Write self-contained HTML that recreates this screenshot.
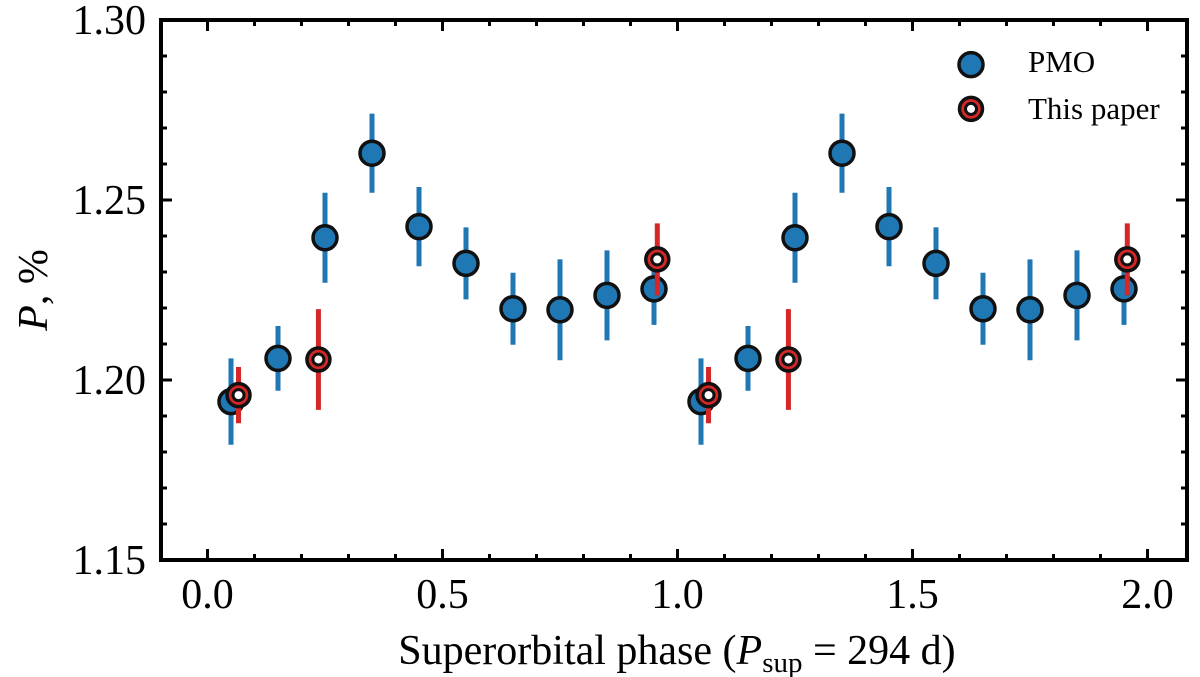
<!DOCTYPE html>
<html><head><meta charset="utf-8"><style>
body{margin:0;background:#fff}
svg text{font-family:"Liberation Serif",serif}
</style></head><body>
<svg id="chart" width="1200" height="677" viewBox="0 0 1200 677" xmlns="http://www.w3.org/2000/svg" style="position:absolute;left:0;top:0"></svg>
<script>
const pmoPhase=[0.05,0.15,0.25,0.35,0.45,0.55,0.65,0.75,0.85,0.95];
const pmoVal=[1.194,1.206,1.2395,1.263,1.2426,1.2324,1.2198,1.2195,1.2235,1.2253];
const pmoErr=[0.012,0.009,0.0125,0.011,0.011,0.010,0.010,0.014,0.0125,0.010];
const ourPhase=[0.066,0.236,0.957];
const ourVal=[1.1958,1.2057,1.2335];
const ourErr=[0.0078,0.014,0.010];
const xTicks=["0.0","0.5","1.0","1.5","2.0"];
const yTicks=["1.15","1.20","1.25","1.30"];

const L=161,R=1187,T=20,B=560;
const X=v=>207.5+v*470;
const Y=v=>B-(v-1.15)/0.15*(B-T);
const svg=document.getElementById('chart');
const NS='http://www.w3.org/2000/svg';
const FF='"Liberation Serif", serif';
function mk(tag,attrs,parent){const e=document.createElementNS(NS,tag);for(const k in attrs)e.setAttribute(k,attrs[k]);(parent||svg).appendChild(e);return e;}

const tg=mk('g',{});


for(let i=-1;i<=21;i++){const v=i*0.1;const x=X(v);if(x<L+2||x>R-2)continue;const len=(i%5===0)?11:6;
 mk('line',{x1:x,y1:B,x2:x,y2:B-len,stroke:'#000','stroke-width':3},tg);
 mk('line',{x1:x,y1:T,x2:x,y2:T+len,stroke:'#000','stroke-width':3},tg);}
for(let i=0;i<=15;i++){const v=1.15+i*0.01;const y=Y(v);if(y<T+2||y>B-2)continue;const len=(i%5===0)?11:6;
 mk('line',{x1:L,y1:y,x2:L+len,y2:y,stroke:'#000','stroke-width':3},tg);
 mk('line',{x1:R,y1:y,x2:R-len,y2:y,stroke:'#000','stroke-width':3},tg);}

xTicks.forEach(t=>{const e=mk('text',{x:X(parseFloat(t)),y:608,'font-size':42,'text-anchor':'middle','font-family':FF});e.textContent=t;

});
yTicks.forEach(t=>{const e=mk('text',{x:146,y:Y(parseFloat(t))+14,'font-size':42,'text-anchor':'end','font-family':FF});e.textContent=t;

});

function pmoPoint(x,v,e,g){
 mk('line',{x1:x,y1:Y(v-e),x2:x,y2:Y(v+e),stroke:'#1f77b4','stroke-width':5},g);
 mk('circle',{cx:x,cy:Y(v),r:12,fill:'#1f77b4',stroke:'#111','stroke-width':3.5},g);}
function ourPoint(x,v,e,g){
 mk('line',{x1:x,y1:Y(v-e),x2:x,y2:Y(v+e),stroke:'#d62728','stroke-width':5},g);
 mk('circle',{cx:x,cy:Y(v),r:11.5,fill:'#d62728',stroke:'#111','stroke-width':3.5},g);
 mk('circle',{cx:x,cy:Y(v),r:5.5,fill:'#fff',stroke:'#111','stroke-width':3},g);}
const pg=mk('g',{});


[0,1].forEach(off=>pmoPhase.forEach((p,i)=>pmoPoint(X(p+off),pmoVal[i],pmoErr[i],pg)));
const og=mk('g',{});


[0,1].forEach(off=>ourPhase.forEach((p,i)=>ourPoint(X(p+off),ourVal[i],ourErr[i],og)));

const fr=mk('rect',{x:L,y:T,width:R-L,height:B-T,fill:'none',stroke:'#000','stroke-width':4});



const lg=mk('g',{});


pmoPoint(971,1.2876,0.0035,lg);
ourPoint(971,1.2753,0.0035,lg);
const l1=mk('text',{x:1028,y:72,'font-size':31,'font-family':FF},lg);l1.textContent='PMO';


const l2=mk('text',{x:1028,y:119,'font-size':31,'font-family':FF},lg);l2.textContent='This paper';



const xt=mk('text',{x:677,y:664,'font-size':42,'text-anchor':'middle','font-family':FF});


xt.innerHTML='Superorbital phase (<tspan font-style="italic">P</tspan><tspan font-size="29" dy="8">sup</tspan><tspan dy="-8"> = 294 d)</tspan>';
const yt=mk('text',{transform:'translate(47,290) rotate(-90)','font-size':42,'text-anchor':'middle','font-family':FF});


yt.innerHTML='<tspan font-style="italic">P</tspan>, %';
</script>
</body></html>
